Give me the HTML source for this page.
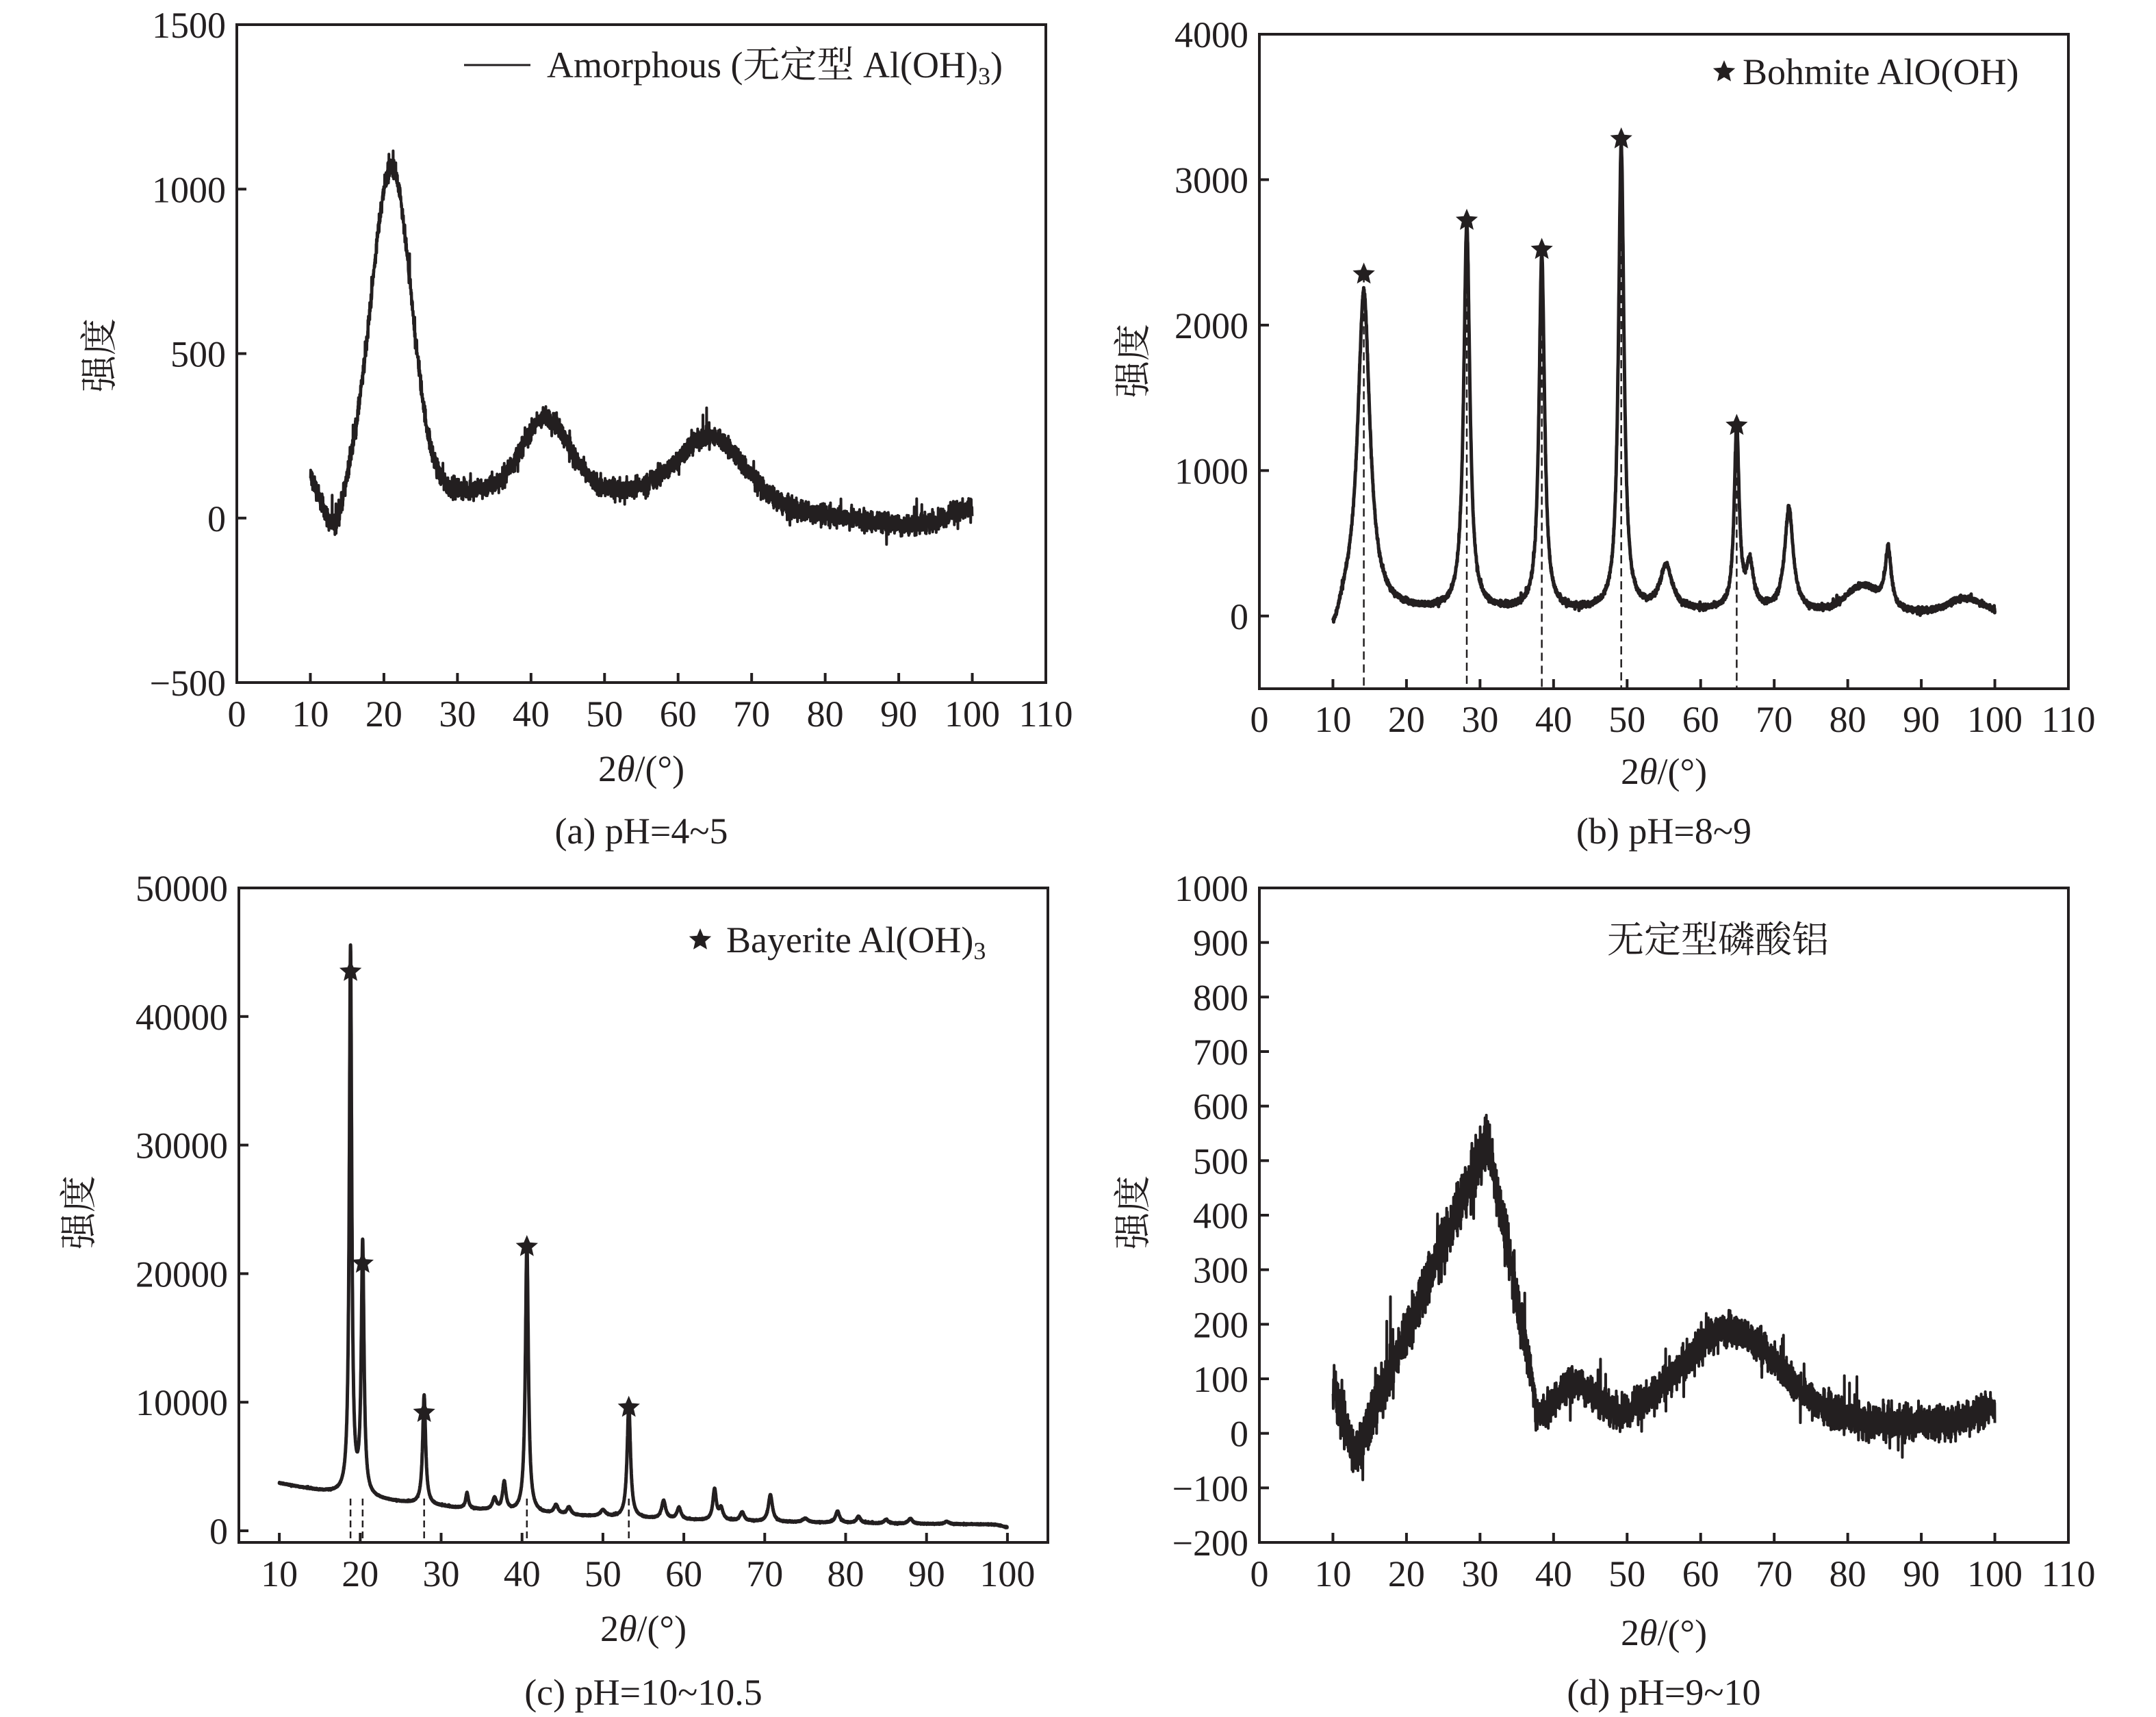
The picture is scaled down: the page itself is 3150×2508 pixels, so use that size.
<!DOCTYPE html>
<html><head><meta charset="utf-8"><style>
html,body{margin:0;padding:0;background:#fff}
svg{display:block}
text{font-family:"Liberation Serif","Noto Serif CJK SC",serif;fill:#231f20}
</style></head><body>
<svg id="s" width="3150" height="2508" viewBox="0 0 3150 2508" xmlns="http://www.w3.org/2000/svg">
<g font-size="54">
<text x="141" y="519" transform="rotate(-90 141 519)" text-anchor="middle" dominant-baseline="central" style="font-family:'Noto Serif CJK SC',serif">强度</text>
<text x="1651" y="527" transform="rotate(-90 1651 527)" text-anchor="middle" dominant-baseline="central" style="font-family:'Noto Serif CJK SC',serif">强度</text>
<text x="111" y="1771" transform="rotate(-90 111 1771)" text-anchor="middle" dominant-baseline="central" style="font-family:'Noto Serif CJK SC',serif">强度</text>
<text x="1651" y="1771" transform="rotate(-90 1651 1771)" text-anchor="middle" dominant-baseline="central" style="font-family:'Noto Serif CJK SC',serif">强度</text>
<text x="937" y="1141" text-anchor="middle">2<tspan font-style="italic">θ</tspan>/(°)</text>
<text x="2431" y="1145" text-anchor="middle">2<tspan font-style="italic">θ</tspan>/(°)</text>
<text x="940" y="2397" text-anchor="middle">2<tspan font-style="italic">θ</tspan>/(°)</text>
<text x="2431" y="2403" text-anchor="middle">2<tspan font-style="italic">θ</tspan>/(°)</text>
<text x="937" y="1232" text-anchor="middle">(a) pH=4~5</text>
<text x="2431" y="1232" text-anchor="middle">(b) pH=8~9</text>
<text x="940" y="2490" text-anchor="middle">(c) pH=10~10.5</text>
<text x="2431" y="2490" text-anchor="middle">(d) pH=9~10</text>
<line x1="678" y1="95" x2="775" y2="95" stroke="#231f20" stroke-width="3"/>
<text x="799" y="113">Amorphous (无定型 Al(OH)<tspan font-size="36" dy="10">3</tspan><tspan dy="-10">)</tspan></text>
<text x="2546" y="123">Bohmite AlO(OH)</text>
<text x="1061" y="1391">Bayerite Al(OH)<tspan font-size="36" dy="10">3</tspan></text>
<text x="2510" y="1391" text-anchor="middle" style="font-family:'Noto Serif CJK SC',serif">无定型磷酸铝</text>
</g>
<g id="dyn"></g>
</svg>
<script>
var NS="http://www.w3.org/2000/svg",G=document.getElementById("dyn");
function el(t,a,txt){var e=document.createElementNS(NS,t);for(var k in a)e.setAttribute(k,a[k]);if(txt!=null)e.textContent=txt;G.appendChild(e);return e;}
var seed=12345;function rnd(){seed=(seed*1103515245+12345)%2147483648;return seed/2147483648;}
function gn(){var v=(rnd()+rnd()+rnd()-1.5)/1.5;if(rnd()<0.04)v*=2.2;return v;}
function g(x,c,w){return Math.exp(-Math.pow((x-c)/w,2));}
function L(x,c,w){return 1/(1+Math.pow((x-c)/w,2));}
function star(cx,cy,r){var p=[];for(var i=0;i<10;i++){var a=-Math.PI/2+i*Math.PI/5,rr=i%2?r*0.45:r;p.push((cx+rr*Math.cos(a)).toFixed(1)+","+(cy+rr*Math.sin(a)).toFixed(1));}el("polygon",{points:p.join(" "),fill:"#231f20"});}
function panel(P){
  var X=function(v){return P.l+(v-P.x0)/(P.x1-P.x0)*(P.r-P.l);};
  var Y=function(v){return P.b-(v-P.y0)/(P.y1-P.y0)*(P.b-P.t);};
  P.X=X;P.Y=Y;
  var pts=[];for(var x=10;x<=100;x+=P.step){var y=P.f(x)+P.noise(x)*gn();pts.push(X(x).toFixed(1)+","+Y(y).toFixed(1));}
  el("polyline",{points:pts.join(" "),fill:"none",stroke:"#231f20","stroke-width":P.sw,"stroke-linejoin":"round"});
  el("rect",{x:P.l,y:P.t,width:P.r-P.l,height:P.b-P.t,fill:"none",stroke:"#231f20","stroke-width":4});
  P.xt.forEach(function(v){var px=X(v);el("line",{x1:px,y1:P.b,x2:px,y2:P.b-14,stroke:"#231f20","stroke-width":4});el("text",{x:px,y:P.xly,"text-anchor":"middle","font-size":54},String(v));});
  P.yt.forEach(function(v){var py=Y(v);el("line",{x1:P.l,y1:py,x2:P.l+14,y2:py,stroke:"#231f20","stroke-width":4});el("text",{x:P.l-16,y:py+19,"text-anchor":"end","font-size":54},(v<0?"\u2212"+(-v):String(v)));});
}
function rng(a,b,s){var r=[];for(var v=a;v<=b;v+=s)r.push(v);return r;}
// (a)
panel({l:346,r:1528,t:36,b:997,x0:0,x1:110,y0:-500,y1:1500,step:0.02,sw:4,xly:1061,
 xt:rng(0,110,10),yt:rng(-500,1500,500),
 f:function(x){return 980*g(x,21,3.8)+220*g(x,42,4.5)+175*g(x,64.5,6)+85/(1+Math.exp((x-72)/4))-120*g(x,13.2,1.6)+40*g(x,10,0.8)+30*g(x,100,4)-20*g(x,91,6);},
 noise:function(x){return 45;}});
// (b)
var fb=function(x){return 2200*L(x,14.2,1.0)+2650*L(x,28.2,0.5)+2450*L(x,38.4,0.45)+3200*L(x,49.2,0.45)+300*L(x,55.3,1.0)+1250*L(x,64.9,0.4)+300*L(x,66.7,0.6)+700*L(x,72,0.7)+170*g(x,82,3)+400*L(x,85.5,0.5)+90*g(x,96,3)+30-180*g(x,10,1.2);};
var pb={l:1840,r:3022,t:50,b:1006,x0:0,x1:110,y0:-500,y1:4000,step:0.02,sw:5,xly:1069,
 xt:rng(0,110,10),yt:[0,1000,2000,3000,4000],f:fb,noise:function(x){return 28;}};
panel(pb);
[[14.2,2350],[28.2,2720],[38.4,2520],[49.2,3280],[64.9,1310]].forEach(function(p){var px=pb.X(p[0]);el("line",{x1:px,y1:pb.Y(p[1]),x2:px,y2:pb.b,stroke:"#231f20","stroke-width":2.5,"stroke-dasharray":"12,7"});star(px,pb.Y(p[1]),17);});
star(2519,105,17);
// (c)
var fc=function(x){return 400+3300*Math.exp(-(x-10)/25)-200*g(x,100,1)
 +42500*L(x,18.8,0.18)+19500*L(x,20.3,0.2)+8500*L(x,27.9,0.22)+21000*L(x,40.6,0.22)+8800*L(x,53.2,0.25)
 +1200*L(x,33.2,0.2)+900*L(x,36.6,0.3)+2200*L(x,37.8,0.25)+700*L(x,44.2,0.3)+600*L(x,45.8,0.3)+500*L(x,50,0.4)
 +1400*L(x,57.5,0.3)+900*L(x,59.4,0.3)+2400*L(x,63.8,0.25)+900*L(x,64.6,0.3)+700*L(x,67.2,0.3)+2100*L(x,70.7,0.3)
 +300*L(x,75,0.4)+900*L(x,79,0.3)+500*L(x,81.6,0.3)+300*L(x,85,0.3)+400*L(x,88,0.3)+200*L(x,92.5,0.3);};
var pc={l:349,r:1531,t:1297,b:2253,x0:5,x1:105,y0:-905,y1:50000,step:0.01,sw:5,xly:2317,
 xt:rng(10,100,10),yt:rng(0,50000,10000),f:fc,noise:function(x){return 60;}};
panel(pc);
[[18.8,43500],[20.3,20800],[27.9,9200],[40.6,22100],[53.2,9600]].forEach(function(p){var px=pc.X(p[0]);el("line",{x1:px,y1:pc.Y(2500),x2:px,y2:pc.b,stroke:"#231f20","stroke-width":2.5,"stroke-dasharray":"10,6"});star(px,pc.Y(p[1]),17);});
star(1023,1373,17);
// (d)
var fd=function(x){var base;
 if(x<13)base=80-120*(x-10)/3;else if(x<31)base=-40+580*(x-13)/18;else if(x<37.5)base=540-470*(x-31)/6.5;else base=70;
 if(x>=37.5)base=20+70*g(x,43,4)+170*g(x,64,9.5)+25*g(x,100,4);
 return base;};
panel({l:1840,r:3022,t:1297,b:2253,x0:0,x1:110,y0:-200,y1:1000,step:0.02,sw:4,xly:2317,
 xt:rng(0,110,10),yt:rng(-200,1000,100),f:fd,noise:function(x){return x<37?70:45;}});
</script>
</body></html>
